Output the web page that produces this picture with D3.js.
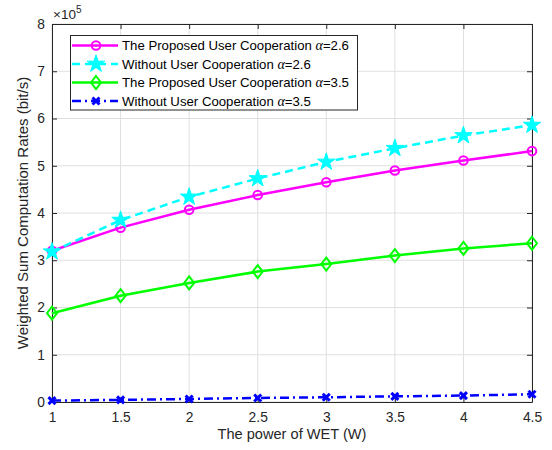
<!DOCTYPE html>
<html><head><meta charset="utf-8">
<script src="https://cdn.jsdelivr.net/npm/d3@7"></script>
<style>body{margin:0;background:#fff}svg{font-family:"Liberation Sans",Arial,sans-serif}</style>
</head><body>
<svg id="c" width="552" height="450"></svg>
<script>
const xValues = [1, 1.5, 2, 2.5, 3, 3.5, 4, 4.5];
const coop26 = [3.20, 3.69, 4.07, 4.38, 4.65, 4.90, 5.11, 5.31];
const noCoop26 = [3.18, 3.85, 4.34, 4.73, 5.08, 5.37, 5.64, 5.86];
const coop35 = [1.88, 2.25, 2.52, 2.76, 2.92, 3.10, 3.25, 3.36];
const noCoop35 = [0.03, 0.045, 0.064, 0.086, 0.10, 0.12, 0.136, 0.164];
const xTicks = [1, 1.5, 2, 2.5, 3, 3.5, 4, 4.5];
const yTicks = [0, 1, 2, 3, 4, 5, 6, 7, 8];
const legendLabels = ["The Proposed User Cooperation ", "Without User Cooperation ", "The Proposed User Cooperation ", "Without User Cooperation "];
const legendAlpha = ["2.6", "2.6", "3.5", "3.5"];

const svg = d3.select("#c");
const L = 52, R = 532, T = 24, B = 402;
const x = d3.scaleLinear().domain([1, 4.5]).range([L, R]);
const y = d3.scaleLinear().domain([0, 8]).range([B, T]);
const axisColor = "#262626";

// grid
const g = svg.append("g");
g.selectAll(".gx").data(xTicks).enter().append("line")
  .attr("x1", d => x(d)).attr("x2", d => x(d)).attr("y1", T).attr("y2", B)
  .attr("stroke", "#dfdfdf").attr("stroke-width", 1);
g.selectAll(".gy").data(yTicks).enter().append("line")
  .attr("y1", d => y(d)).attr("y2", d => y(d)).attr("x1", L).attr("x2", R)
  .attr("stroke", "#dfdfdf").attr("stroke-width", 1);

// axes
const xb = svg.append("g").attr("transform", `translate(0,${B})`)
  .call(d3.axisBottom(x).tickValues(xTicks).tickSizeInner(-5).tickSizeOuter(0).tickPadding(10).tickFormat(d3.format("")));
const xt = svg.append("g").attr("transform", `translate(0,${T})`)
  .call(d3.axisTop(x).tickValues(xTicks).tickSizeInner(-5).tickSizeOuter(0).tickFormat(""));
const yl = svg.append("g").attr("transform", `translate(${L},0)`)
  .call(d3.axisLeft(y).tickValues(yTicks).tickSizeInner(-5).tickSizeOuter(0).tickPadding(7).tickFormat(d3.format("d")));
const yr = svg.append("g").attr("transform", `translate(${R},0)`)
  .call(d3.axisRight(y).tickValues(yTicks).tickSizeInner(-5).tickSizeOuter(0).tickFormat(""));
[xb, xt, yl, yr].forEach(a => {
  a.selectAll("path").attr("stroke", axisColor).attr("stroke-width", 1);
  a.selectAll("line").attr("stroke", axisColor);
  a.selectAll("text").attr("fill", axisColor).attr("font-size", 13.8).attr("font-family", "Liberation Sans, Arial, sans-serif");
});

// labels
svg.append("text").attr("x", (L + R) / 2).attr("y", 439).attr("text-anchor", "middle")
  .attr("font-size", 14.6).attr("fill", axisColor).text("The power of WET (W)");
svg.append("text").attr("transform", `translate(28,${(T + B) / 2}) rotate(-90)`).attr("text-anchor", "middle")
  .attr("font-size", 15).attr("fill", axisColor).text("Weighted Sum Computation Rates (bit/s)");
const ex = svg.append("text").attr("x", 53).attr("y", 19).attr("font-size", 13.5).attr("fill", axisColor);
ex.append("tspan").text("×10");
ex.append("tspan").attr("dy", -6).attr("font-size", 10).text("5");

// series
const line = d3.line().x((d, i) => x(xValues[i])).y(d => y(d));
const series = [
  {data: coop26, color: "#ff00ff", dash: null, marker: "circle"},
  {data: noCoop26, color: "#00ffff", dash: "8,5", marker: "star"},
  {data: coop35, color: "#00ff00", dash: null, marker: "diamond"},
  {data: noCoop35, color: "#0000ff", dash: "9,4,2,4", marker: "x"}
];
function drawMarker(sel, type, color) {
  if (type === "circle") {
    sel.append("circle").attr("r", 4.3).attr("fill", "none").attr("stroke", color).attr("stroke-width", 2);
  } else if (type === "star") {
    sel.append("path").attr("d", d3.symbol().type(d3.symbolStar).size(95)()).attr("fill", color).attr("stroke", color).attr("stroke-width", 1);
  } else if (type === "diamond") {
    sel.append("path").attr("d", "M0,-6.5L5,0L0,6.5L-5,0Z").attr("fill", "none").attr("stroke", color).attr("stroke-width", 2);
  } else {
    sel.append("path").attr("d", "M-3.5,-3.5L3.5,3.5M-3.5,3.5L3.5,-3.5").attr("fill", "none").attr("stroke", color).attr("stroke-width", 3);
  }
}
series.forEach(s => {
  svg.append("path").datum(s.data).attr("d", line).attr("fill", "none")
    .attr("stroke", s.color).attr("stroke-width", 2.5).attr("stroke-dasharray", s.dash);
  svg.selectAll(null).data(s.data).enter().append("g")
    .attr("transform", (d, i) => `translate(${x(xValues[i])},${y(d)})`)
    .each(function() { drawMarker(d3.select(this), s.marker, s.color); });
});

// legend
const lg = svg.append("g");
lg.append("rect").attr("x", 70.5).attr("y", 35.5).attr("width", 287).attr("height", 74.5)
  .attr("fill", "#fff").attr("stroke", axisColor).attr("stroke-width", 1);
series.forEach((s, i) => {
  const yy = 45.5 + i * 18.5;
  lg.append("line").attr("x1", 72).attr("x2", 118).attr("y1", yy).attr("y2", yy)
    .attr("stroke", s.color).attr("stroke-width", 2.5).attr("stroke-dasharray", s.dash);
  const m = lg.append("g").attr("transform", `translate(96,${yy})`);
  drawMarker(m, s.marker, s.color);
  const t = lg.append("text").attr("x", 122).attr("y", yy + 4.5).attr("font-size", 13.2).attr("fill", "#000");
  t.append("tspan").text(legendLabels[i]);
  t.append("tspan").attr("font-family", "Liberation Serif, Times New Roman, serif").attr("font-style", "italic").attr("font-size", 14).text("α");
  t.append("tspan").text("=" + legendAlpha[i]);
});
</script>
</body></html>
